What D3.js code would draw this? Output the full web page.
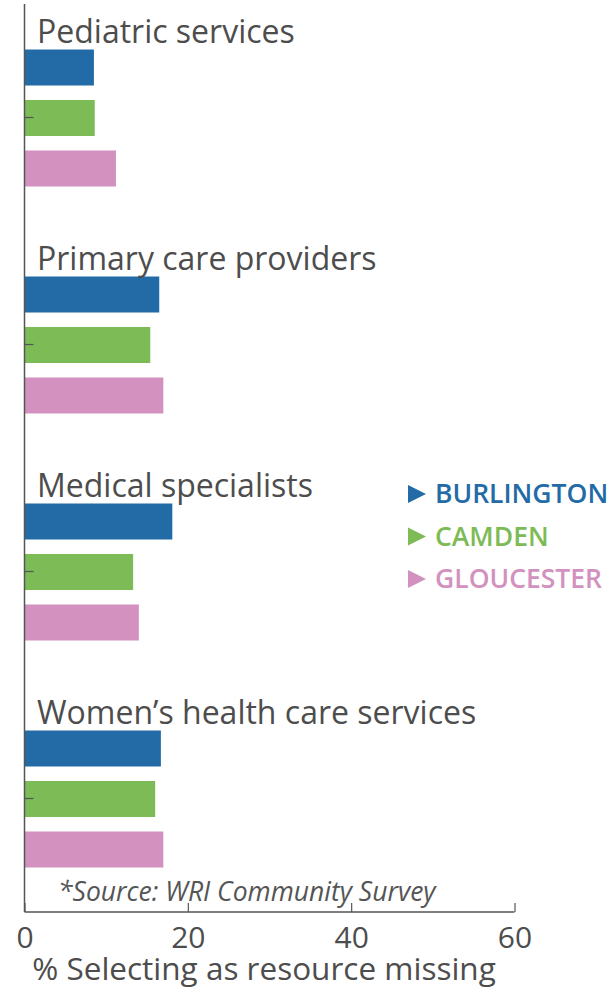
<!DOCTYPE html>
<html><head><meta charset="utf-8">
<script src="https://cdn.jsdelivr.net/npm/d3@7"></script>
<style>body{margin:0;background:#fff;} svg{display:block;font-family:"Open Sans",sans-serif;}</style>
</head><body>
<svg id="c" width="608" height="990"></svg>
<script>
const categories = ["Pediatric services","Primary care providers","Medical specialists","Women\u2019s health care services"];
const series = ["BURLINGTON","CAMDEN","GLOUCESTER"];
const burlington = [8.5, 16.5, 18.1, 16.7];
const camden = [8.6, 15.4, 13.3, 16.0];
const gloucester = [11.2, 17.0, 14.0, 17.0];
const xTicks = [0, 20, 40, 60];
const colors = ["#236ba6","#7cbb55","#d291be"];
const values = [burlington, camden, gloucester];

const svg = d3.select("#c");
const x = d3.scaleLinear().domain([0,60]).range([24.5,514.5]);
const y = d3.scaleBand().domain(categories).range([4,912]);
const inner = d3.scaleBand().domain(series).range([-68,69]).paddingInner(0.287);
const color = d3.scaleOrdinal().domain(series).range(colors);
const axisColor = "#555";

// bars
series.forEach((s,si)=>{
  svg.append("g").selectAll("rect").data(categories).join("rect")
    .attr("x", x(0))
    .attr("y", c => y(c)+y.bandwidth()/2+inner(s))
    .attr("width", (c,i)=> x(values[si][i]) - x(0))
    .attr("height", inner.bandwidth())
    .attr("fill", color(s));
});

// y axis
const ya = svg.append("g").attr("transform",`translate(${x(0)},0)`)
  .call(d3.axisLeft(y).tickSize(-9).tickFormat(""));
ya.select(".domain").attr("stroke",axisColor).attr("stroke-width",1.5).attr("d",`M0,4V912`);
ya.selectAll(".tick line").attr("stroke",axisColor).attr("stroke-width",1.2);

// category labels
svg.append("g").selectAll("text").data(categories).join("text")
  .attr("x", 37)
  .attr("y", c => y(c)+y.bandwidth()/2+inner(series[0]) - 7)
  .attr("font-size", 32).attr("fill","#4d4d4d")
  .text(c=>c);

// x axis
const xa = svg.append("g").attr("transform","translate(0,912)")
  .call(d3.axisBottom(x).tickValues(xTicks).tickSize(-9).tickPadding(15));
xa.select(".domain").attr("stroke",axisColor).attr("stroke-width",1.5).attr("d",`M${x(0)},0H${x(60)}`);
xa.selectAll(".tick line").attr("stroke",axisColor).attr("stroke-width",1.2);
xa.selectAll(".tick text").attr("font-size",30).attr("fill","#4d4d4d").attr("font-family","Open Sans, sans-serif");

svg.append("text").attr("x",264).attr("y",980).attr("text-anchor","middle")
  .attr("font-size",31.5).attr("fill","#4d4d4d").text("% Selecting as resource missing");

svg.append("text").attr("x",58).attr("y",901).attr("font-style","italic")
  .attr("font-size",26.5).attr("fill","#555").text("*Source: WRI Community Survey");

// legend
const lg = svg.append("g").selectAll("g").data(series).join("g")
  .attr("transform",(s,i)=>`translate(408,${494+i*42.5})`);
lg.append("path").attr("d","M0,-9L18,0L0,9Z").attr("fill",s=>color(s));
lg.append("text").attr("x",27).attr("dy","0.35em").attr("font-size",26.5).attr("font-weight",600)
  .attr("fill",s=>color(s)).text(s=>s);
</script>
</body></html>
